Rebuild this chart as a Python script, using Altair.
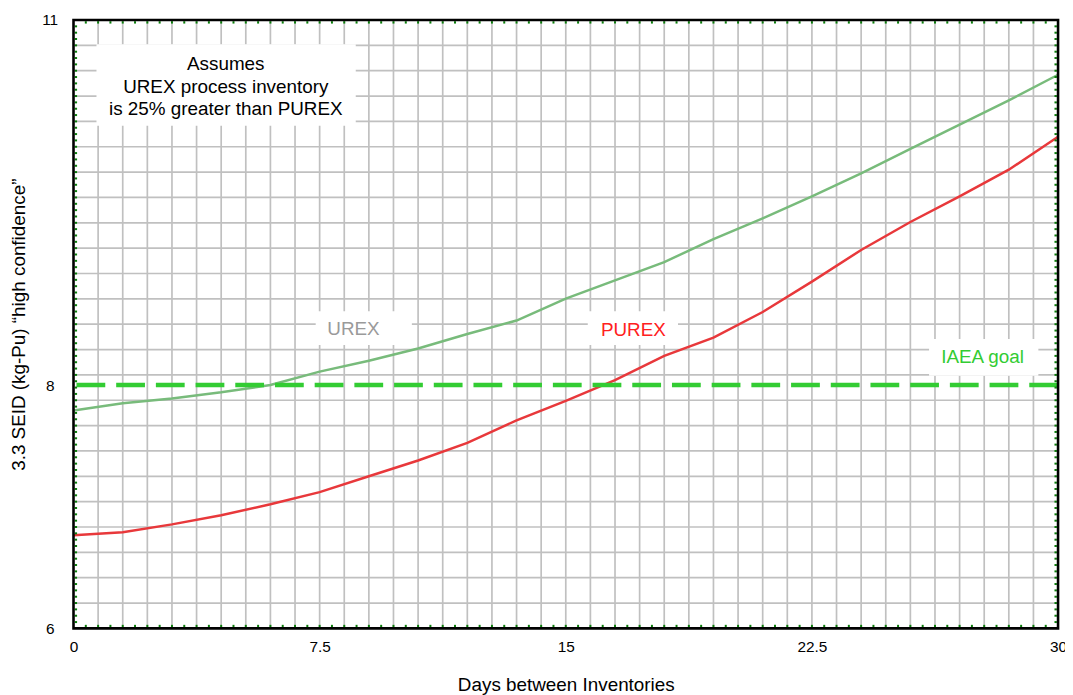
import altair as alt
import pandas as pd
import numpy as np

# ---------------- data ----------------
days = [0, 1.5, 3, 4.5, 6, 7.5, 9, 10.5, 12, 13.5, 15, 16.5, 18, 19.5, 21, 22.5, 24, 25.5, 27, 28.5, 30]
urex = [7.79, 7.85, 7.89, 7.94, 8.00, 8.11, 8.20, 8.30, 8.42, 8.53, 8.71, 8.86, 9.01, 9.20, 9.37, 9.55, 9.74, 9.94, 10.14, 10.34, 10.55]
purex = [6.765, 6.79, 6.855, 6.93, 7.02, 7.12, 7.25, 7.38, 7.525, 7.71, 7.87, 8.04, 8.24, 8.39, 8.60, 8.85, 9.11, 9.34, 9.55, 9.77, 10.04]
iaea_goal = 8.0

x_tick_values = [0, 7.5, 15, 22.5, 30]
y_tick_values = [6, 8, 11]

annotation_text = "Assumes\nUREX process inventory\nis 25% greater than PUREX"
label_names = ["UREX", "PUREX", "IAEA goal"]

# ---------------- layout ----------------
W, H = 992, 613
FONT = "Liberation Sans"
xs = alt.Scale(domain=[0, 30], nice=False, zero=False)
ys = alt.Scale(domain=[6, 11], nice=False, zero=False)

xaxis = alt.Axis(values=x_tick_values, format=".1~f", labelPadding=11,
                 title="Days between Inventories", titleX=W / 2, titleY=63,
                 titleAlign="center", titleBaseline="alphabetic")
yaxis = alt.Axis(values=y_tick_values, format=".1~f", labelPadding=24,
                 labelAlign="center", labelBaseline="middle",
                 title="3.3 SEID (kg-Pu) \u201chigh confidence\u201d",
                 titleAngle=270, titleX=-49, titleY=H / 2, titleAlign="center",
                 titleBaseline="alphabetic")

# gridlines (40 x divisions, 24 y divisions)
vgrid_df = pd.DataFrame({"gx": np.arange(1, 40) * 0.75})
hgrid_df = pd.DataFrame({"gy": 6 + np.arange(1, 24) * 5 / 24})

vgrid = alt.Chart(vgrid_df).mark_rule(color="#c0c0c0", strokeWidth=1.7).encode(
    x=alt.X("gx:Q", scale=xs, axis=xaxis))
hgrid = alt.Chart(hgrid_df).mark_rule(color="#c0c0c0", strokeWidth=1.7).encode(
    y=alt.Y("gy:Q", scale=ys, axis=yaxis))

# white boxes behind texts
boxes_df = pd.DataFrame({
    "x1": [0.70, 7.38, 15.67, 26.07],
    "x2": [8.60, 10.31, 18.42, 29.40],
    "y1": [10.13, 8.33, 8.33, 8.076],
    "y2": [10.80, 8.606, 8.606, 8.378],
})
boxes = alt.Chart(boxes_df).mark_rect(fill="white").encode(
    x=alt.X("x1:Q", scale=xs, axis=xaxis), x2="x2:Q",
    y=alt.Y("y1:Q", scale=ys, axis=yaxis), y2="y2:Q")

annot_df = pd.DataFrame({"x": [4.64], "y": [10.586], "t": [annotation_text]})
annot = alt.Chart(annot_df).mark_text(
    align="center", baseline="alphabetic", lineBreak="\n", lineHeight=22.6,
    fontSize=19, font=FONT, color="black").encode(
    x=alt.X("x:Q", scale=xs, axis=xaxis), y=alt.Y("y:Q", scale=ys, axis=yaxis), text="t:N")

labels_df = pd.DataFrame({
    "x": [8.53, 17.06, 27.70],
    "y": [8.41, 8.402, 8.179],
    "t": label_names,
    "c": ["#9a9a9a", "#ff2020", "#33cc33"],
})
labels = alt.Chart(labels_df).mark_text(
    align="center", baseline="alphabetic", fontSize=19, font=FONT).encode(
    x=alt.X("x:Q", scale=xs, axis=xaxis), y=alt.Y("y:Q", scale=ys, axis=yaxis),
    text="t:N", color=alt.Color("c:N", scale=None))

curves_df = pd.concat([
    pd.DataFrame({"days": days, "seid": urex, "series": "UREX"}),
    pd.DataFrame({"days": days, "seid": purex, "series": "PUREX"}),
])
curves = alt.Chart(curves_df).mark_line(strokeWidth=2.5).encode(
    x=alt.X("days:Q", scale=xs, axis=xaxis),
    y=alt.Y("seid:Q", scale=ys, axis=yaxis),
    color=alt.Color("series:N", scale=alt.Scale(domain=["UREX", "PUREX"],
                                                range=["#78bb7b", "#e8383b"]), legend=None),
    detail="series:N")

goal = alt.Chart(pd.DataFrame({"g": [iaea_goal]})).mark_rule(
    color="#33cc33", strokeWidth=4.5, strokeDash=[29, 11]).encode(
    y=alt.Y("g:Q", scale=ys, axis=yaxis))

# tiny green minor ticks inside the frame
ymin_df = pd.DataFrame({"my": 6 + np.arange(1, 96) * 5 / 96})
xmin_df = pd.DataFrame({"mx": np.arange(1, 80) * 0.375})
GREEN = "#0a7d0a"
left_ticks = alt.Chart(ymin_df).mark_rule(color=GREEN, strokeWidth=2).encode(
    y=alt.Y("my:Q", scale=ys, axis=yaxis), x=alt.value(1.2), x2=alt.value(3.6))
right_ticks = alt.Chart(ymin_df).mark_rule(color=GREEN, strokeWidth=2).encode(
    y=alt.Y("my:Q", scale=ys, axis=yaxis), x=alt.value(W - 3.6), x2=alt.value(W - 1.2))
bottom_ticks = alt.Chart(xmin_df).mark_rule(color=GREEN, strokeWidth=2).encode(
    x=alt.X("mx:Q", scale=xs, axis=xaxis), y=alt.value(H - 3.6), y2=alt.value(H - 1.2))
top_ticks = alt.Chart(xmin_df).mark_rule(color=GREEN, strokeWidth=2).encode(
    x=alt.X("mx:Q", scale=xs, axis=xaxis), y=alt.value(1.2), y2=alt.value(3.6))

frame = alt.Chart(pd.DataFrame({"a": [0]})).mark_rect(
    fillOpacity=0, stroke="black", strokeWidth=2.6).encode(
    x=alt.value(0), x2=alt.value(W), y=alt.value(0), y2=alt.value(H))

chart = alt.layer(
    vgrid, hgrid, boxes, annot, labels, curves, goal,
    left_ticks, right_ticks, bottom_ticks, top_ticks, frame
).properties(
    width=W, height=H,
    autosize=alt.AutoSizeParams(type="none"),
    padding={"left": 66, "top": 9.5, "right": 7, "bottom": 64},
).configure(font=FONT).configure_view(stroke=None).configure_axis(
    grid=False, ticks=False, tickSize=0, domain=False,
    labelFont=FONT, labelFontSize=15.5, labelColor="black",
    labelFlush=False, labelOverlap=False,
    titleFont=FONT, titleFontSize=19, titleFontWeight="normal", titleColor="black",
)

chart.save("out.html", embed_options={"renderer": "svg", "actions": False})
